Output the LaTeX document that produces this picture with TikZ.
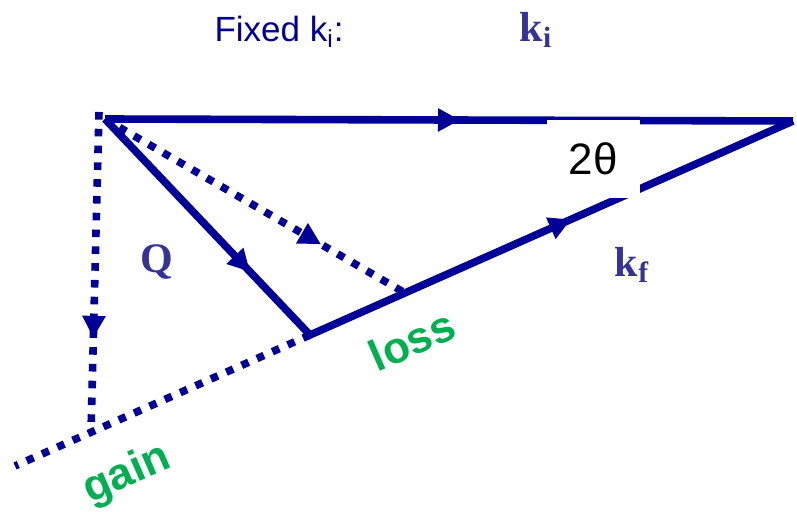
\documentclass[tikz,border=0pt]{standalone}
\usepackage{fontspec}
\setmainfont{Liberation Serif}
\setsansfont{Liberation Sans}
\usetikzlibrary{arrows.meta, decorations.markings}

\definecolor{vecblue}{RGB}{0,0,153}
\definecolor{labblue}{RGB}{51,51,153}
\definecolor{ergreen}{RGB}{0,176,80}

\tikzset{
  vec/.style={vecblue, line width=3.8pt, line join=miter},
  dotvec/.style={vecblue, line width=3.8pt, dash pattern=on 3.8pt off 4.6pt},
  midarrow/.style={postaction={decorate}, decoration={markings,
      mark=at position #1 with {\arrow{Triangle[length=11pt, width=11pt]}}}},
  veclabel/.style={labblue, font=\fontsize{21}{21}\selectfont\bfseries},
  elabel/.style={ergreen, font=\fontsize{22}{22}\selectfont\sffamily\bfseries, rotate=23.6},
}

\begin{document}
\begin{tikzpicture}[x=0.5pt, y=-0.5pt]
  \useasboundingbox (0,0) rectangle (797,512);

  % scattering triangle
  \coordinate (O) at (105,119);
  \coordinate (Ot) at (99,112);
  \coordinate (E) at (793,121);
  \coordinate (B) at (310,335);
  \coordinate (L) at (405,293);
  \coordinate (G) at (91,432);
  \coordinate (F) at (15,466);

  \draw[dotvec] (B) -- (F);
  \draw[dotvec, midarrow=0.72] (O) -- (L);
  \draw[dotvec, midarrow=0.706] (Ot) -- (G);
  \draw[vec, midarrow=0.516] (O) -- (E);
  \draw[vec, postaction={decorate}, decoration={markings,
      mark=at position 0.255 with {\arrow{Triangle[length=11pt, width=11pt]}},
      mark=at position 0.706 with {\arrow{Triangle[length=11pt, width=11pt]}}}]
    (O) -- (B) -- (E);

  \node[fill=white, minimum width=46.5pt, minimum height=39pt, inner sep=0pt,
        font=\fontsize{22}{22}\selectfont\sffamily] (angle) at (593,159) {2θ};

  % labels
  \node[vecblue, font=\fontsize{17.5}{17.5}\selectfont\sffamily] (fixed) at (279,32)
    {Fixed k\textsubscript{i}:};
  \node[veclabel] (ki) at (536,30) {k\textsubscript{i}};
  \node[veclabel] (Q) at (157,262) {Q};
  \node[veclabel] (kf) at (632,265) {k\textsubscript{f}};
  \node[elabel] (loss) at (412,340) {loss};
  \node[elabel] (gain) at (127,475) {gain};
\end{tikzpicture}
\end{document}
